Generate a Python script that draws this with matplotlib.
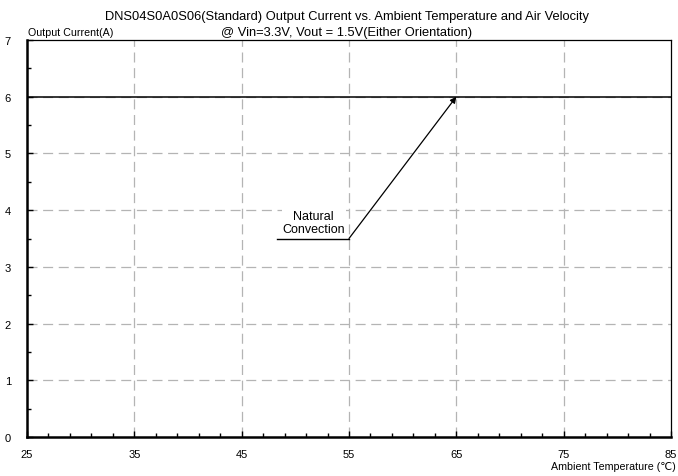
import numpy as np
import matplotlib
matplotlib.use("Agg")
import matplotlib.pyplot as plt

plt.rcParams['font.family'] = ['Liberation Sans', 'DejaVu Sans']

# derating curve: natural convection
temp = [25, 85]
current = [6, 6]

# annotation
label_text = "Natural\nConvection"
label_xy = (51.7, 3.78)
shelf_x = [48.3, 55]
shelf_y = 3.5
arrow_from = (55, 3.5)
arrow_to = (65, 6)

xticks = [25, 35, 45, 55, 65, 75, 85]
yticks = [0, 1, 2, 3, 4, 5, 6, 7]

fig = plt.figure(figsize=(6.78, 4.77), dpi=100)
ax = fig.add_axes([27/678, 1 - 438/477, 644/678, 397/477])

ax.set_xlim(25, 85)
ax.set_ylim(0, 7)
ax.set_xticks(xticks)
ax.set_yticks(yticks)
ax.set_xticks(np.arange(25, 86, 2), minor=True)
ax.set_yticks(np.arange(0, 7.01, 0.5), minor=True)

for t in xticks[1:-1]:
    ax.axvline(t, color="#b4b4b4", lw=0.9, dashes=(8, 4.5), zorder=1)
for t in yticks[1:-1]:
    ax.axhline(t, color="#b4b4b4", lw=0.9, dashes=(8, 4.5), zorder=1)

ax.plot(temp, current, color="black", lw=1.1, zorder=3)

ax.plot(shelf_x, [shelf_y, shelf_y], color="black", lw=1.0, zorder=3)
ax.annotate("", xy=arrow_to, xytext=arrow_from,
            arrowprops=dict(arrowstyle="-|>", color="black", lw=0.9,
                            mutation_scale=9, shrinkA=0, shrinkB=0), zorder=4)
ax.text(label_xy[0], label_xy[1], label_text, ha="center", va="center",
        fontsize=9, linespacing=1.1, zorder=4,
        bbox=dict(facecolor="white", edgecolor="none", pad=0.5))

ax.tick_params(axis="both", which="both", direction="in", labelsize=8)
ax.tick_params(axis="both", which="major", length=4, width=1)
ax.tick_params(axis="both", which="minor", length=3, width=1)
ax.tick_params(axis="x", pad=9)
for lab in ax.get_yticklabels():
    lab.set_horizontalalignment("left")
ax.tick_params(axis="y", pad=16)

ax.spines["left"].set_linewidth(1.8)
ax.spines["bottom"].set_linewidth(1.8)
ax.spines["top"].set_linewidth(0.9)
ax.spines["right"].set_linewidth(0.9)

fig.text(347/678, 1 - 17/477, "DNS04S0A0S06(Standard) Output Current vs. Ambient Temperature and Air Velocity",
         ha="center", va="center", fontsize=9.3)
fig.text(347/678, 1 - 33/477, "@ Vin=3.3V, Vout = 1.5V(Either Orientation)",
         ha="center", va="center", fontsize=9.3)
fig.text(28/678, 1 - 33/477, "Output Current(A)", ha="left", va="center", fontsize=7.7)
fig.text(676/678, 1 - 467/477, "Ambient Temperature (\u2103)", ha="right", va="center", fontsize=7.7)

fig.savefig("out.png", dpi=100)
